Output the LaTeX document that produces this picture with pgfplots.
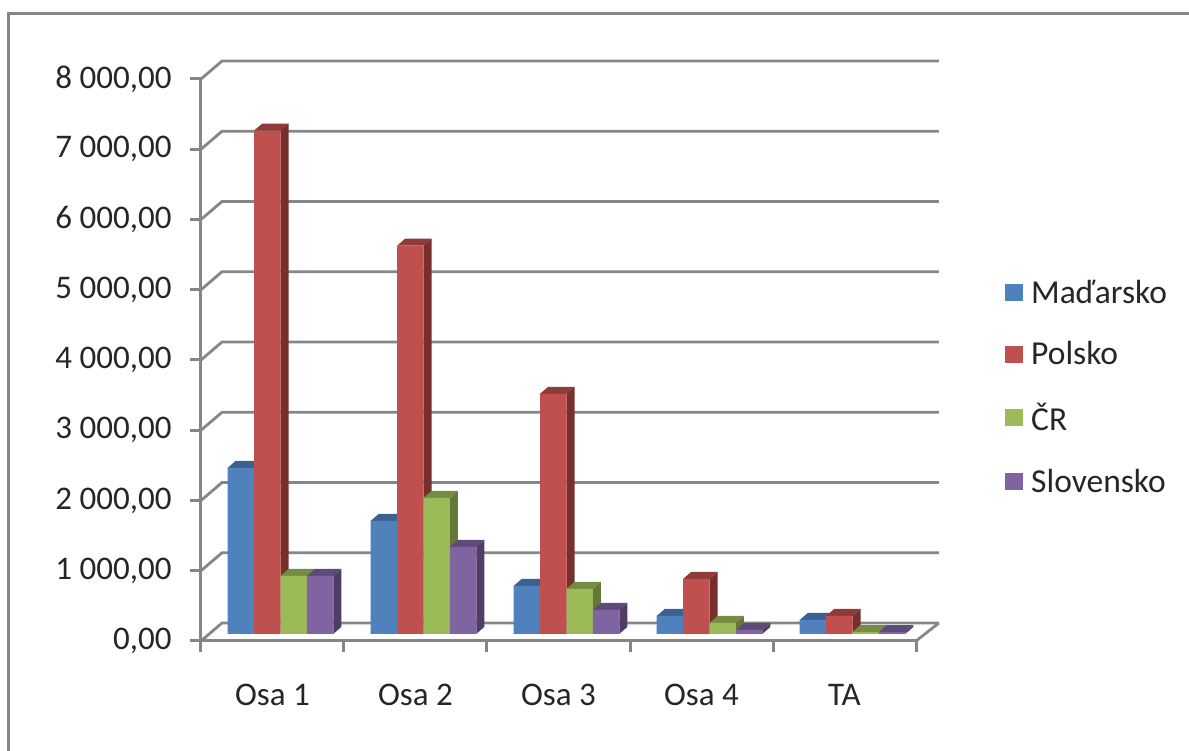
\documentclass[border=0pt]{standalone}
\usepackage{fontspec}
\setmainfont{Carlito}
\usepackage{pgfplots}
\usepackage{pgfplotstable}
\pgfplotsset{compat=1.18}

\definecolor{cblue}{HTML}{4F81BD}
\definecolor{cred}{HTML}{C0504D}
\definecolor{cgreen}{HTML}{9BBB59}
\definecolor{cpurple}{HTML}{8064A2}
\definecolor{sblue}{HTML}{2F4D72}
\definecolor{tblue}{HTML}{3A618F}
\definecolor{sred}{HTML}{772F2D}
\definecolor{tred}{HTML}{8E3B39}
\definecolor{sgreen}{HTML}{647838}
\definecolor{tgreen}{HTML}{748C43}
\definecolor{spurple}{HTML}{4F3D66}
\definecolor{tpurple}{HTML}{5F4B7A}
\definecolor{axgray}{HTML}{868686}

% values per country, categories Osa 1..4, TA
\pgfplotstableread{
cat y
0 2365
1 1610
2 684
3 256
4 199
}\madarsko
\pgfplotstableread{
cat y
0 7165
1 5527
2 3419
3 783
4 256
}\polsko
\pgfplotstableread{
cat y
0 826
1 1937
2 641
3 157
4 28
}\cesko
\pgfplotstableread{
cat y
0 826
1 1239
2 342
3 57
4 28
}\slovensko

% side and top of a bar, drawn from its top front centre (1 px = 1 pt)
\pgfdeclareplotmark{cuboid}{%
  \pgfmathsetlengthmacro\barh{\barval*0.0702pt}%
  \pgfmathsetlengthmacro\xa{\barx pt+13.2pt}%
  \pgfmathsetlengthmacro\xb{\barx pt-13.2pt}%
  \pgfsetfillcolor{\sidecol}%
  \pgfpathmoveto{\pgfqpoint{\xa}{-\barh}}%
  \pgfpathlineto{\pgfpoint{\xa+8pt}{-\barh+7pt}}%
  \pgfpathlineto{\pgfpoint{\xa+8pt}{7pt}}%
  \pgfpathlineto{\pgfqpoint{\xa}{0pt}}%
  \pgfpathclose\pgfusepathqfill
  \pgfsetfillcolor{\topcol}%
  \pgfpathmoveto{\pgfqpoint{\xb}{0pt}}%
  \pgfpathlineto{\pgfpoint{\xb+8pt}{7pt}}%
  \pgfpathlineto{\pgfpoint{\xa+8pt}{7pt}}%
  \pgfpathlineto{\pgfqpoint{\xa}{0pt}}%
  \pgfpathclose\pgfusepathqfill
}

\pgfplotsset{
  depth/.style n args={3}{
    only marks, scatter, mark=cuboid, forget plot,
    point meta=y,
    visualization depends on={rawy \as \barval},
    visualization depends on={value #1 \as \barx},
    visualization depends on={value #2 \as \sidecol},
    visualization depends on={value #3 \as \topcol},
  },
  front/.style n args={2}{
    ybar, bar width=26.4pt, bar shift=#1pt, fill=#2, draw=none,
  },
  wall/.style={axgray, line width=2.8pt, forget plot, mark=none},
}

\begin{document}
\begin{tikzpicture}
  \begin{axis}[
    scale only axis,
    width=715pt, height=562pt,
    xmin=0, xmax=5, ymin=-100, ymax=7900,
    clip=false, clip mode=individual,
    axis x line*=bottom, axis y line*=left,
    axis line style={axgray, line width=3pt, -},
    xtick={0.5,1.5,2.5,3.5,4.5},
    xticklabels={Osa 1,Osa 2,Osa 3,Osa 4,TA},
    minor xtick={0,1,2,3,4,5},
    ytick={-100,900,...,7900},
    yticklabels={{0,00},{1 000,00},{2 000,00},{3 000,00},{4 000,00},{5 000,00},{6 000,00},{7 000,00},{8 000,00}},
    major x tick style={draw=none},
    every tick/.style={axgray, line width=3pt},
    tick align=outside,
    major tick length=11pt, minor tick length=11pt,
    tick label style={font=\fontsize{33}{33}\selectfont, text=black!85},
    xticklabel style={yshift=-29pt},
    yticklabel style={xshift=-15pt},
    legend style={at={(1.1245,0.452)}, anchor=west, draw=none, fill=none,
      font=\fontsize{33.5}{33.5}\selectfont, text=black!85, row sep=33pt,
      inner sep=0pt},
    legend cell align=left,
    legend image code/.code={\fill[#1] (0pt,-8.5pt) rectangle (18pt,8.5pt);
      \path (24pt,0pt);},
  ]
    % back wall and floor
    \addplot[wall] coordinates {(5,-100) (5.16,156)};
    \addplot[wall] coordinates {(0,-100) (0.147,156) (5.16,156)};
    \addplot[wall] coordinates {(0,900) (0.147,1156) (5.16,1156)};
    \addplot[wall] coordinates {(0,1900) (0.147,2156) (5.16,2156)};
    \addplot[wall] coordinates {(0,2900) (0.147,3156) (5.16,3156)};
    \addplot[wall] coordinates {(0,3900) (0.147,4156) (5.16,4156)};
    \addplot[wall] coordinates {(0,4900) (0.147,5156) (5.16,5156)};
    \addplot[wall] coordinates {(0,5900) (0.147,6156) (5.16,6156)};
    \addplot[wall] coordinates {(0,6900) (0.147,7156) (5.16,7156)};
    \addplot[wall] coordinates {(0,7900) (0.147,8156) (5.16,8156)};

    \addplot[depth={-39.6}{sblue}{tblue}] table[x expr=\coordindex+0.556, y=y] {\madarsko};
    \addplot[front={-39.6}{cblue}] table[x expr=\coordindex+0.556, y=y] {\madarsko};
    \addplot[depth={-13.2}{sred}{tred}] table[x expr=\coordindex+0.556, y=y] {\polsko};
    \addplot[front={-13.2}{cred}] table[x expr=\coordindex+0.556, y=y] {\polsko};
    \addplot[depth={13.2}{sgreen}{tgreen}] table[x expr=\coordindex+0.556, y=y] {\cesko};
    \addplot[front={13.2}{cgreen}] table[x expr=\coordindex+0.556, y=y] {\cesko};
    \addplot[depth={39.6}{spurple}{tpurple}] table[x expr=\coordindex+0.556, y=y] {\slovensko};
    \addplot[front={39.6}{cpurple}] table[x expr=\coordindex+0.556, y=y] {\slovensko};
    \legend{Maďarsko,Polsko,ČR,Slovensko}
  \end{axis}
  % outer chart border, then the page size
  \draw[axgray, line width=3pt] (-192.3pt,-110pt) -- (-192.3pt,627.3pt) -- (988pt,627.3pt);
  \pgfresetboundingbox
  \path[use as bounding box] (-201pt,-110pt) rectangle (988pt,641pt);
\end{tikzpicture}
\end{document}
